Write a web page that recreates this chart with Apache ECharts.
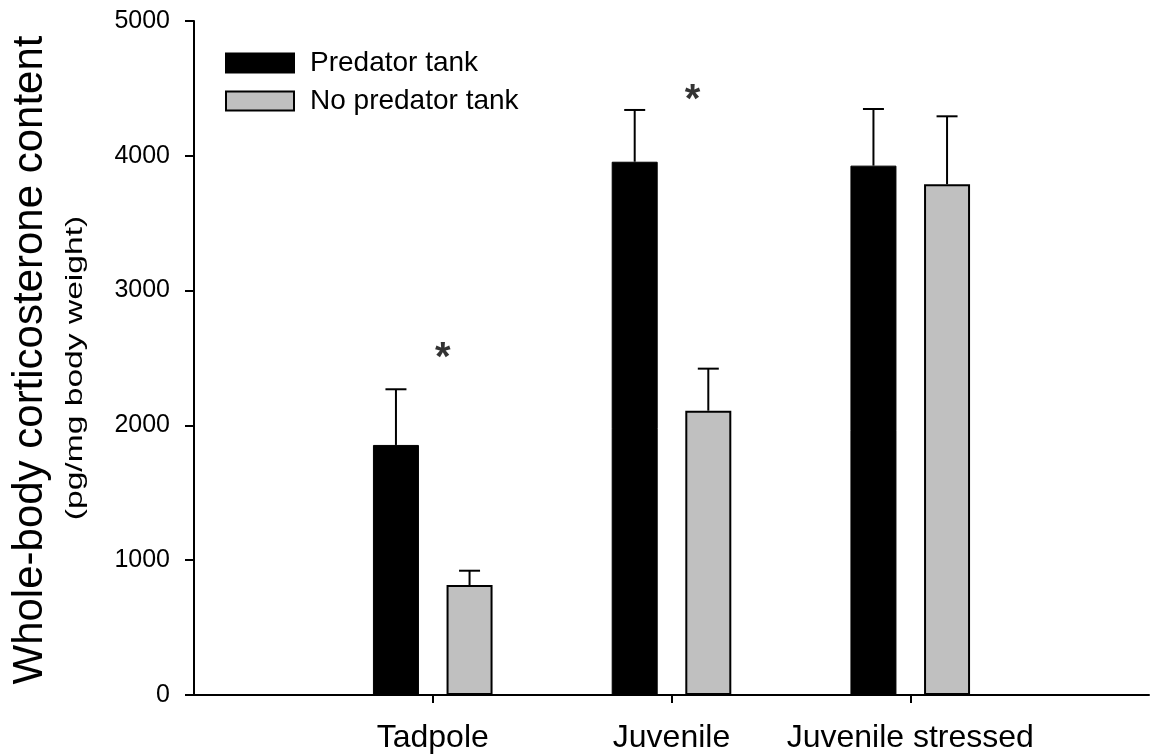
<!DOCTYPE html>
<html><head><meta charset="utf-8">
<script src="https://cdn.jsdelivr.net/npm/echarts@6/dist/echarts.min.js"></script>
<style>html,body{margin:0;padding:0;background:#fff}#c{width:1152px;height:755px}</style>
</head><body><div id="c"></div>
<script>
// ---- data ----
const categories = ['', 'Tadpole', 'Juvenile', 'Juvenile stressed', ''];
const predatorMeans = [null, 1855, 3956, 3927, null];
const predatorSE = [null, 413, 384, 420, null];
const noPredatorMeans = [null, 816, 2109, 3789, null];
const noPredatorSE = [null, 106, 312, 504, null];
const sigCategoryIndex = [1, 2];
const sigMarkValue = [2496, 4410];
const seriesNames = ['Predator tank', 'No predator tank'];
const yTitle = 'Whole-body corticosterone content';
const ySubTitle = '(pg/mg body weight)';

// ---- style ----
const FONT = 'Liberation Sans, Arial, sans-serif';
const BAR_W = 46, GAP = 0.6;
const BAR_OFFSET = (BAR_W + BAR_W * GAP) / 2;

function errData(means, se) {
  const out = [];
  means.forEach((m, i) => { if (m != null) out.push([i, m, se[i]]); });
  return out;
}
function errRender(side) {
  return function (params, api) {
    const i = api.value(0), m = api.value(1), e = api.value(2);
    const base = api.coord([i, m]);
    const top = api.coord([i, m + e]);
    const x = base[0] + side * BAR_OFFSET;
    return { type: 'group', children: [
      { type: 'line', shape: { x1: x, y1: base[1], x2: x, y2: top[1] }, style: { stroke: '#000', lineWidth: 2 } },
      { type: 'line', shape: { x1: x - 10.5, y1: top[1], x2: x + 10.5, y2: top[1] }, style: { stroke: '#000', lineWidth: 2 } }
    ]};
  };
}
const sigOffsets = [10, 21];

const chart = echarts.init(document.getElementById('c'), null, { renderer: 'canvas' });
chart.setOption({
  animation: false,
  backgroundColor: '#fff',
  textStyle: { fontFamily: FONT },
  grid: { left: 194, top: 21, right: 0, bottom: 60, containLabel: false },
  legend: {
    orient: 'vertical', left: 220, top: 44,
    itemWidth: 68, itemHeight: 19, itemGap: 10,
    icon: 'rect',
    data: seriesNames,
    textStyle: { fontSize: 28, color: '#000', fontFamily: FONT, padding: [0, 0, 0, 11] }
  },
  xAxis: {
    type: 'category', data: categories, boundaryGap: false,
    axisLine: { lineStyle: { color: '#000', width: 2 } },
    axisTick: { show: true, length: 8, lineStyle: { color: '#000', width: 2 },
      interval: function (idx) { return categories[idx] !== ''; } },
    axisLabel: { interval: 0, fontSize: 32, color: '#000', margin: 27, fontFamily: FONT },
    splitLine: { show: false }
  },
  yAxis: {
    type: 'value', min: 0, max: 5000, interval: 1000,
    axisLine: { show: true, lineStyle: { color: '#000', width: 2 } },
    axisTick: { show: true, length: 9, lineStyle: { color: '#000', width: 2 } },
    axisLabel: { fontSize: 25, color: '#000', margin: 24, fontFamily: FONT,
      formatter: function (v) { return String(v); } },
    splitLine: { show: false }
  },
  graphic: [
    { type: 'text', x: 30, y: 360, rotation: Math.PI / 2,
      style: { text: yTitle, fontSize: 42, fill: '#000', fontFamily: FONT, align: 'center', verticalAlign: 'middle' } },
    { type: 'text', x: 75, y: 368, rotation: Math.PI / 2, scaleX: 1.4,
      style: { text: ySubTitle, fontSize: 24, fill: '#000', fontFamily: FONT, align: 'center', verticalAlign: 'middle' } }
  ],
  series: [
    { name: seriesNames[0], type: 'bar', data: predatorMeans, barWidth: BAR_W, barGap: (GAP * 100) + '%',
      itemStyle: { color: '#000', borderColor: '#000', borderWidth: 1 } },
    { name: seriesNames[1], type: 'bar', data: noPredatorMeans, barWidth: BAR_W,
      itemStyle: { color: '#c0c0c0', borderColor: '#000', borderWidth: 2 } },
    { type: 'custom', renderItem: errRender(-1), data: errData(predatorMeans, predatorSE), z: 5, silent: true },
    { type: 'custom', renderItem: errRender(1), data: errData(noPredatorMeans, noPredatorSE), z: 5, silent: true },
    { type: 'scatter', symbolSize: 0, z: 6, silent: true,
      data: sigCategoryIndex.map((c, k) => ({ value: [c, sigMarkValue[k]],
        label: { offset: [sigOffsets[k], 0] } })),
      label: { show: true, position: 'inside', formatter: '*', fontSize: 40, fontWeight: 'bold', color: '#000', fontFamily: FONT } }
  ]
});
</script>
</body></html>
